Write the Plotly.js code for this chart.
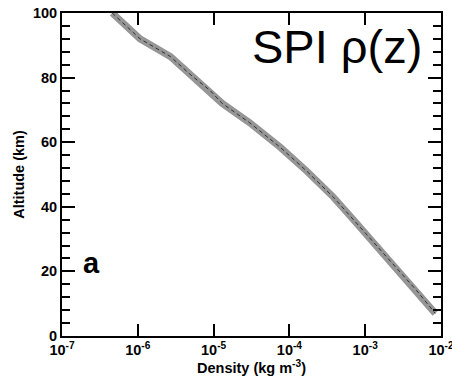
<!DOCTYPE html>
<html>
<head>
<meta charset="utf-8">
<script src="https://cdn.plot.ly/plotly-3.0.1.min.js"></script>
<style>
  html, body { margin: 0; padding: 0; background: #fff; }
  #chart { width: 452px; height: 377px; }
</style>
</head>
<body>
<div id="chart"></div>
<script>
// Data
const altitudeKm = [100, 92, 86.5, 81, 76, 72, 66, 58.5, 51, 43, 36, 24.5, 14, 7];
const densityKgM3 = [4.6e-7, 1.07e-6, 2.7e-6, 4.9e-6, 9.0e-6, 1.3e-5, 3.0e-5, 7.5e-5, 1.7e-4, 3.8e-4, 7.0e-4, 1.9e-3, 4.8e-3, 8.4e-3];
const xTickVals = [1e-7, 1e-6, 1e-5, 1e-4, 1e-3, 1e-2];
const xTickText = ['10<sup>-7</sup>', '10<sup>-6</sup>', '10<sup>-5</sup>', '10<sup>-4</sup>', '10<sup>-3</sup>', '10<sup>-2</sup>'];
const yTickVals = [0, 20, 40, 60, 80, 100];

const FONT = 'Liberation Sans, Arial, Helvetica, sans-serif';

const traces = [
  {
    x: densityKgM3, y: altitudeKm, type: 'scatter', mode: 'lines',
    line: {color: 'rgb(150,150,150)', width: 7},
    hoverinfo: 'skip', showlegend: false
  },
  {
    x: densityKgM3, y: altitudeKm, type: 'scatter', mode: 'lines',
    line: {color: 'rgb(50,50,50)', width: 1, dash: '4px,3px'},
    hoverinfo: 'skip', showlegend: false
  }
];

const layout = {
  width: 452, height: 377,
  margin: {l: 62, r: 11, t: 13, b: 41, pad: 0},
  paper_bgcolor: '#fff', plot_bgcolor: '#fff',
  font: {family: FONT, color: '#000', size: 14},
  showlegend: false,
  xaxis: {
    type: 'log', range: [-7, -2],
    tickvals: xTickVals, ticktext: xTickText,
    ticklabeloverflow: 'allow',
    ticks: 'inside', ticklen: 12, tickwidth: 2, tickcolor: '#000',
    showline: true, linewidth: 2, linecolor: '#000', mirror: 'ticks',
    showgrid: false, zeroline: false,
    tickfont: {family: FONT, size: 14.5, weight: 'bold'},
    title: {text: '<b>Density (kg m<sup>-3</sup>)</b>', font: {family: FONT, size: 14.5, weight: 'bold'}, standoff: 1}
  },
  yaxis: {
    range: [0, 100],
    tickvals: yTickVals,
    ticks: 'inside', ticklen: 13, tickwidth: 2, tickcolor: '#000',
    minor: {dtick: 4, tick0: 0, ticks: 'inside', ticklen: 8, tickwidth: 2, tickcolor: '#000', showgrid: false},
    showline: true, linewidth: 2, linecolor: '#000', mirror: 'ticks',
    showgrid: false, zeroline: false,
    tickfont: {family: FONT, size: 14.5, weight: 'bold'},
    title: {text: '<b>Altitude (km)</b>', font: {family: FONT, size: 14.5, weight: 'bold'}, standoff: 5}
  },
  annotations: [
    {
      text: 'SPI ρ(z)', xref: 'paper', yref: 'paper', x: 0.955, y: 0.985,
      xanchor: 'right', yanchor: 'top', showarrow: false,
      font: {family: FONT, size: 47, color: '#000'}
    },
    {
      text: '<b>a</b>', xref: 'paper', yref: 'paper', x: 0.05, y: 0.225,
      xanchor: 'left', yanchor: 'middle', showarrow: false,
      font: {family: FONT, size: 29, color: '#000', weight: 'bold'}
    }
  ]
};

Plotly.newPlot('chart', traces, layout, {displayModeBar: false, staticPlot: true});
</script>
</body>
</html>
